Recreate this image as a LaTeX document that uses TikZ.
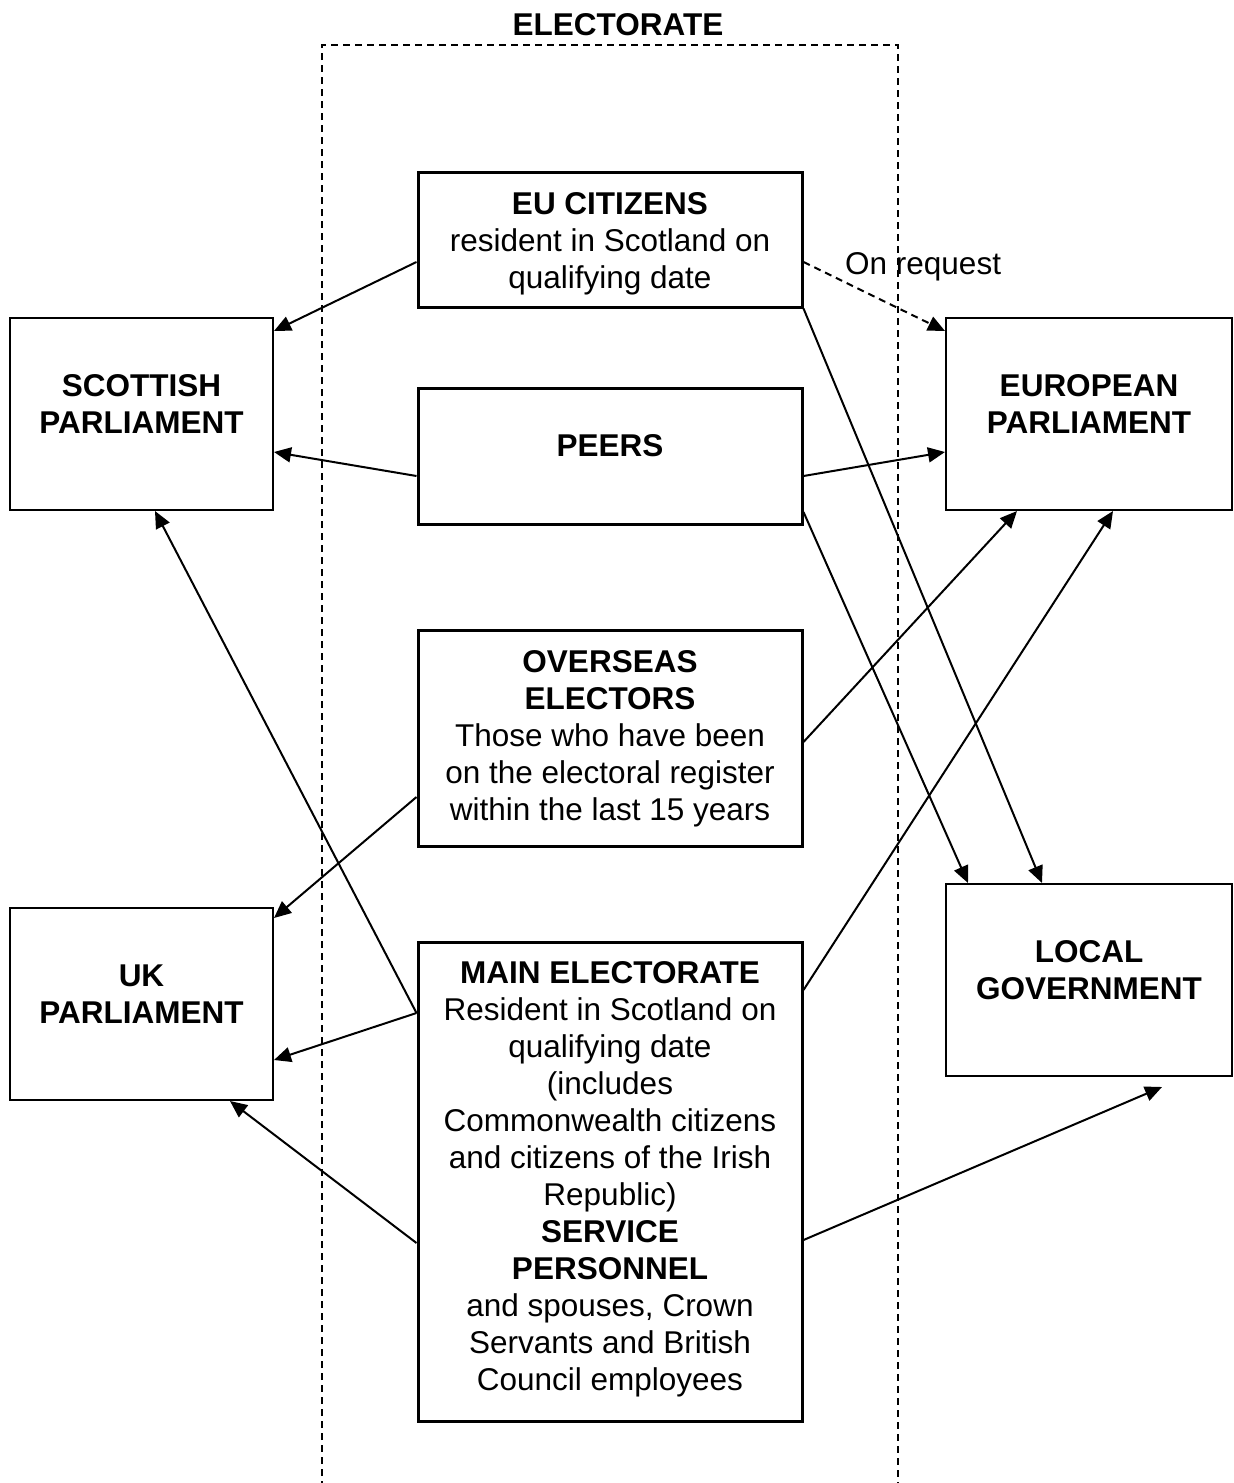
\documentclass[tikz,border=0pt]{standalone}
\usepackage{fontspec}
\setmainfont{Liberation Sans}
\usetikzlibrary{arrows.meta}
\newcommand\diagfont{\fontsize{31.5}{37}\selectfont}
\tikzset{
  outerbox/.style={draw, line width=2pt, minimum width=#1, inner sep=0pt},
  innerbox/.style={draw, line width=3pt, minimum width=384pt, inner sep=0pt},
  txt/.style={font=\diagfont, align=center, inner sep=0pt},
  conn/.style={line width=2pt, -{Triangle[length=17pt,width=15pt]}},
  dashconn/.style={conn, dash pattern=on 7pt off 5pt},
  frame/.style={line width=1.6pt, dash pattern=on 7pt off 5pt}
}
\begin{document}
\begin{tikzpicture}[x=1pt,y=-1pt]
\useasboundingbox[fill=white] (0,0) rectangle (1234,1483);
% dashed electorate frame
\draw[frame] (322,1500) -- (322,45) -- (898,45) -- (898,1500);
\node[txt] (title) at (618,25) {\textbf{ELECTORATE}};
% outer boxes
\node[outerbox=263pt, minimum height=192pt] (scot) at (141.5,414) {};
\node[outerbox=263pt, minimum height=192pt] (uk) at (141.5,1004) {};
\node[outerbox=286pt, minimum height=192pt] (euro) at (1089,414) {};
\node[outerbox=286pt, minimum height=192pt] (local) at (1089,980) {};
% inner boxes
\node[innerbox, minimum height=135pt] (eu) at (610,239.5) {};
\node[innerbox, minimum height=136pt] (peers) at (610,456) {};
\node[innerbox, minimum height=216pt] (over) at (610,738) {};
\node[innerbox, minimum height=479pt] (main) at (610,1181.5) {};
% texts
\node[txt] (scott) at (141.5,404) {\textbf{SCOTTISH}\\\textbf{PARLIAMENT}};
\node[txt] (ukt) at (141.5,994.5) {\textbf{UK}\\\textbf{PARLIAMENT}};
\node[txt] (eurot) at (1089,404) {\textbf{EUROPEAN}\\\textbf{PARLIAMENT}};
\node[txt] (localt) at (1089,970.5) {\textbf{LOCAL}\\\textbf{GOVERNMENT}};
\node[txt] (eut) at (610,243.5) {\textbf{EU CITIZENS}\\resident in Scotland on\\qualifying date};
\node[txt] (peerst) at (610,446) {\textbf{PEERS}};
\node[txt] (overt) at (610,738.5) {\textbf{OVERSEAS}\\\textbf{ELECTORS}\\Those who have been\\on the electoral register\\within the last 15 years};
\node[txt] (maint) at (610,1179) {\textbf{MAIN ELECTORATE}\\Resident in Scotland on\\qualifying date\\(includes\\Commonwealth citizens\\and citizens of the Irish\\Republic)\\\textbf{SERVICE}\\\textbf{PERSONNEL}\\and spouses, Crown\\Servants and British\\Council employees};
\node[txt, anchor=west] (onreq) at (845,267) {On request};
\coordinate (lgend) at (1162,1087);
% connectors
\draw[conn] (eu.west |- 0,262) -- (scot.east |- 0,331);
\draw[dashconn] (eu.east |- 0,262) -- (euro.west |- 0,331);
\draw[conn] (eu.south east) -- (1042,0 |- local.north);
\draw[conn] (peers.west |- 0,476) -- (scot.east |- 0,452);
\draw[conn] (peers.east |- 0,476) -- (euro.west |- 0,452);
\draw[conn] (peers.east |- 0,512) -- (968,0 |- local.north);
\draw[conn] (over.east |- 0,742) -- (1017,0 |- euro.south);
\draw[conn] (over.west |- 0,797) -- (uk.east |- 0,918);
\draw[conn] (main.west |- 0,1013) -- (155,0 |- scot.south);
\draw[conn] (main.west |- 0,1013) -- (uk.east |- 0,1060);
\draw[conn] (main.west |- 0,1243) -- (230,0 |- uk.south);
\draw[conn] (main.east |- 0,990) -- (1113,0 |- euro.south);
\draw[conn] (main.east |- 0,1240) -- (lgend);
\end{tikzpicture}
\end{document}
